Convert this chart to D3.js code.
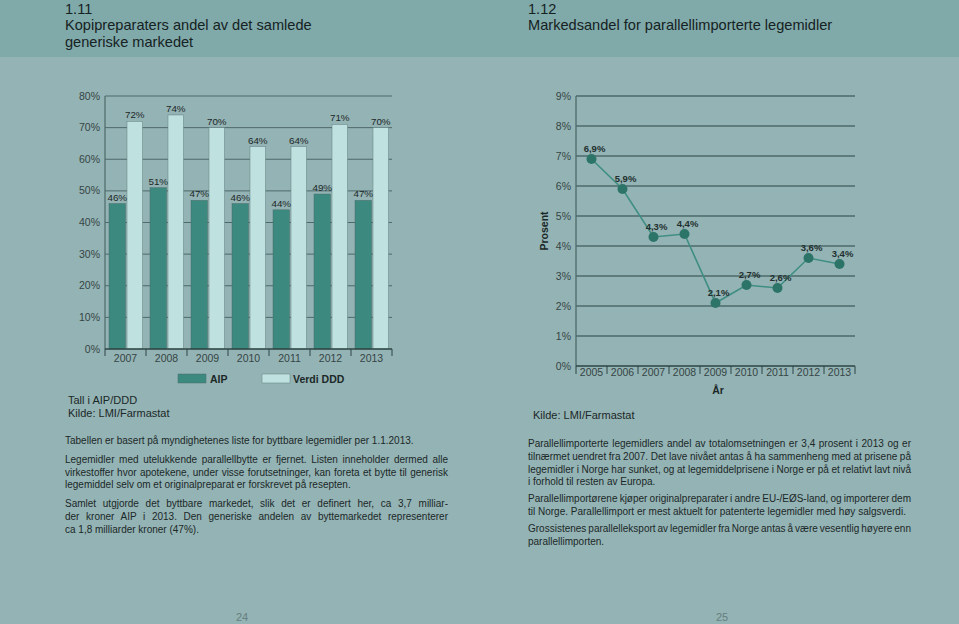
<!DOCTYPE html>
<html><head><meta charset="utf-8">
<script src="https://cdn.jsdelivr.net/npm/d3@7"></script>
<style>
html,body{margin:0;padding:0;background:#94b3b4;}
svg{display:block;font-family:"Liberation Sans",Arial,sans-serif;}
</style></head>
<body><svg id="c" width="959" height="624"></svg>
<script>
// ---- data ----
const years1 = ["2007","2008","2009","2010","2011","2012","2013"];
const aip = [46,51,47,46,44,49,47];
const verdiDDD = [72,74,70,64,64,71,70];
const yTicks1 = [0,10,20,30,40,50,60,70,80];

const shareYears = ["2005","2006","2007","2008","2009","2010","2011","2012","2013"];
const shareValues = [6.9,5.9,4.3,4.4,2.1,2.7,2.6,3.6,3.4];
const yTicks2 = [0,1,2,3,4,5,6,7,8,9];

const leftText = [
  ["Tabellen er basert på myndighetenes liste for byttbare legemidler per 1.1.2013."],
  ["Legemidler med utelukkende parallellbytte er fjernet. Listen inneholder dermed alle",
   "virkestoffer hvor apotekene, under visse forutsetninger, kan foreta et bytte til generisk",
   "legemiddel selv om et originalpreparat er forskrevet på resepten."],
  ["Samlet utgjorde det byttbare markedet, slik det er definert her, ca 3,7 milliar-",
   "der kroner AIP i 2013. Den generiske andelen av byttemarkedet representerer",
   "ca 1,8 milliarder kroner (47%)."]
];
const rightText = [
  ["Parallellimporterte legemidlers andel av totalomsetningen er 3,4 prosent i 2013 og er",
   "tilnærmet uendret fra 2007. Det lave nivået antas å ha sammenheng med at prisene på",
   "legemidler i Norge har sunket, og at legemiddelprisene i Norge er på et relativt lavt nivå",
   "i forhold til resten av Europa."],
  ["Parallellimportørene kjøper originalpreparater i andre EU-/EØS-land, og importerer dem",
   "til Norge. Parallellimport er mest aktuelt for patenterte legemidler med høy salgsverdi."],
  ["Grossistenes parallelleksport av legemidler fra Norge antas å være vesentlig høyere enn",
   "parallellimporten."]
];

// ---- styles ----
const C = {
  header:"#80a9aa", bg:"#94b3b4", text:"#1b2828", axisText:"#354545",
  grid:"#4e6a6a", aip:"#3b897f", ddd:"#bfe1e0", line:"#3f8e84", point:"#2c7368"
};
const svg = d3.select("#c");
svg.append("rect").attr("width",959).attr("height",624).attr("fill",C.bg);
svg.append("rect").attr("width",959).attr("height",57).attr("fill",C.header);

function title(x, lines){
  lines.forEach((t,i)=>{
    svg.append("text").attr("x",x).attr("y",[14,30,47][i]).attr("font-size",14.6)
      .attr("fill","#152222").text(t);
  });
}
title(65,["1.11","Kopipreparaters andel av det samlede","generiske markedet"]);
title(528,["1.12","Markedsandel for parallellimporterte legemidler"]);

// ---- left chart ----
{
  const L=105,R=392,B=349,T=96;
  const x = d3.scaleBand().domain(years1).range([L,R]).paddingInner(0).paddingOuter(0);
  const y = d3.scaleLinear().domain([0,80]).range([B,T]);
  const g = svg.append("g");
  g.selectAll("line.grid").data(yTicks1.filter(d=>d>0)).join("line")
    .attr("x1",L).attr("x2",R).attr("y1",d=>y(d)).attr("y2",d=>y(d))
    .attr("stroke",C.grid).attr("stroke-width",1);
  g.selectAll("text.yl").data(yTicks1).join("text")
    .attr("x",L-5).attr("y",d=>y(d)+3.5).attr("text-anchor","end")
    .attr("font-size",10.5).attr("fill",C.axisText).text(d=>d+"%");
  const bw = x.bandwidth();
  const xa = d=>x(d)+4, xd=d=>x(d)+22;
  const barW = 16.5;
  g.selectAll("rect.a").data(years1).join("rect")
    .attr("x",d=>xa(d)).attr("width",barW)
    .attr("y",(d,i)=>y(aip[i])).attr("height",(d,i)=>B-y(aip[i]))
    .attr("fill",C.aip).attr("stroke","#4d6e6c").attr("stroke-width",0.5);
  g.selectAll("rect.d").data(years1).join("rect")
    .attr("x",d=>xd(d)).attr("width",barW-1)
    .attr("y",(d,i)=>y(verdiDDD[i])).attr("height",(d,i)=>B-y(verdiDDD[i]))
    .attr("fill",C.ddd).attr("stroke","#5f7f7e").attr("stroke-width",0.5);
  g.selectAll("text.la").data(years1).join("text")
    .attr("x",d=>xa(d)+barW/2).attr("y",(d,i)=>y(aip[i])-3).attr("text-anchor","middle")
    .attr("font-size",9.8).attr("fill",C.text).text((d,i)=>aip[i]+"%");
  g.selectAll("text.ld").data(years1).join("text")
    .attr("x",d=>xd(d)+(barW-1)/2).attr("y",(d,i)=>y(verdiDDD[i])-3).attr("text-anchor","middle")
    .attr("font-size",9.8).attr("fill",C.text).text((d,i)=>verdiDDD[i]+"%");
  // axes
  g.append("line").attr("x1",L).attr("x2",L).attr("y1",T).attr("y2",B).attr("stroke",C.grid).attr("stroke-width",1.2);
  g.append("line").attr("x1",L).attr("x2",R).attr("y1",B).attr("y2",B).attr("stroke","#2e4444").attr("stroke-width",1.3);
  const bounds = years1.map(d=>x(d)).concat([R]);
  g.selectAll("line.tk").data(bounds).join("line")
    .attr("x1",d=>d).attr("x2",d=>d).attr("y1",B).attr("y2",B+7)
    .attr("stroke","#2e4444").attr("stroke-width",1);
  g.selectAll("text.xl").data(years1).join("text")
    .attr("x",d=>x(d)+bw/2).attr("y",B+13).attr("text-anchor","middle")
    .attr("font-size",10.5).attr("fill",C.axisText).text(d=>d);
  // legend
  g.append("rect").attr("x",178).attr("y",374).attr("width",28).attr("height",9).attr("fill",C.aip).attr("stroke","#4d6e6c").attr("stroke-width",0.5);
  g.append("text").attr("x",210).attr("y",382.5).attr("font-size",10.5).attr("font-weight","bold").attr("fill",C.text).text("AIP");
  g.append("rect").attr("x",262).attr("y",374).attr("width",28).attr("height",9).attr("fill",C.ddd).attr("stroke","#5f7f7e").attr("stroke-width",0.5);
  g.append("text").attr("x",293).attr("y",382.5).attr("font-size",10.5).attr("font-weight","bold").attr("fill",C.text).text("Verdi DDD");
  g.append("text").attr("x",68).attr("y",404).attr("font-size",11).attr("fill",C.text).text("Tall i AIP/DDD");
  g.append("text").attr("x",68).attr("y",417).attr("font-size",11).attr("fill",C.text).text("Kilde: LMI/Farmastat");
}

// ---- right chart ----
{
  const L=576,R=855,B=366,T=96;
  const x = d3.scaleBand().domain(shareYears).range([L,R]);
  const y = d3.scaleLinear().domain([0,9]).range([B,T]);
  const g = svg.append("g");
  g.selectAll("line.grid").data(yTicks2.filter(d=>d>0)).join("line")
    .attr("x1",L).attr("x2",R).attr("y1",d=>y(d)).attr("y2",d=>y(d))
    .attr("stroke",C.grid).attr("stroke-width",1.3);
  g.selectAll("text.yl").data(yTicks2).join("text")
    .attr("x",L-5).attr("y",d=>y(d)+3.5).attr("text-anchor","end")
    .attr("font-size",10.5).attr("fill",C.axisText).text(d=>d+"%");
  g.append("line").attr("x1",L).attr("x2",L).attr("y1",T).attr("y2",B).attr("stroke",C.grid).attr("stroke-width",1.3);
  g.append("line").attr("x1",L).attr("x2",R).attr("y1",B).attr("y2",B).attr("stroke","#2e4444").attr("stroke-width",1.3);
  const bounds = shareYears.map(d=>x(d)).concat([R]);
  g.selectAll("line.tk").data(bounds).join("line")
    .attr("x1",d=>d).attr("x2",d=>d).attr("y1",B).attr("y2",B+8)
    .attr("stroke","#2e4444").attr("stroke-width",1);
  g.selectAll("text.xl").data(shareYears).join("text")
    .attr("x",d=>x(d)+x.bandwidth()/2).attr("y",B+9.5).attr("text-anchor","middle")
    .attr("font-size",10.5).attr("fill",C.axisText).text(d=>d);
  const pts = shareYears.map((d,i)=>({x:x(d)+x.bandwidth()/2,y:y(shareValues[i]),v:shareValues[i]}));
  g.append("path").attr("d",d3.line().x(d=>d.x).y(d=>d.y)(pts))
    .attr("fill","none").attr("stroke",C.line).attr("stroke-width",1.6);
  g.selectAll("circle").data(pts).join("circle")
    .attr("cx",d=>d.x).attr("cy",d=>d.y).attr("r",5).attr("fill",C.point);
  g.selectAll("text.pl").data(pts).join("text")
    .attr("x",d=>d.x+3).attr("y",d=>d.y-7).attr("text-anchor","middle")
    .attr("font-size",9.5).attr("font-weight","bold").attr("fill","#22302f")
    .text(d=>d3.format(".1f")(d.v).replace(".",",")+"%");
  g.append("text").attr("transform","translate(548,231) rotate(-90)").attr("text-anchor","middle")
    .attr("font-size",10.5).attr("font-weight","bold").attr("fill",C.text).text("Prosent");
  g.append("text").attr("x",718).attr("y",394).attr("text-anchor","middle")
    .attr("font-size",10.5).attr("font-weight","bold").attr("fill",C.text).text("År");
  g.append("text").attr("x",533).attr("y",419).attr("font-size",11).attr("fill",C.text).text("Kilde: LMI/Farmastat");
}

// ---- body text ----
function para(x0, width, y0, paras, lh, gap){
  let yy=y0;
  paras.forEach(p=>{
    p.forEach((line,i)=>{
      const t = svg.append("text").attr("x",x0).attr("y",yy).attr("font-size",10)
        .attr("fill",C.text).text(line);
      if(i<p.length-1){
        const w = t.node().getComputedTextLength();
        const n = (line.match(/ /g)||[]).length;
        if(n>0) t.attr("word-spacing",(width-w)/n);
      }
      yy+=lh;
    });
    yy+=gap;
  });
}
para(65,383,444,leftText,12.8,6);
para(528,383,447,rightText,12.8,4);

svg.append("text").attr("x",242).attr("y",621).attr("text-anchor","middle").attr("font-size",11).attr("fill","#667f80").text("24");
svg.append("text").attr("x",722).attr("y",621).attr("text-anchor","middle").attr("font-size",11).attr("fill","#667f80").text("25");
</script></body></html>
